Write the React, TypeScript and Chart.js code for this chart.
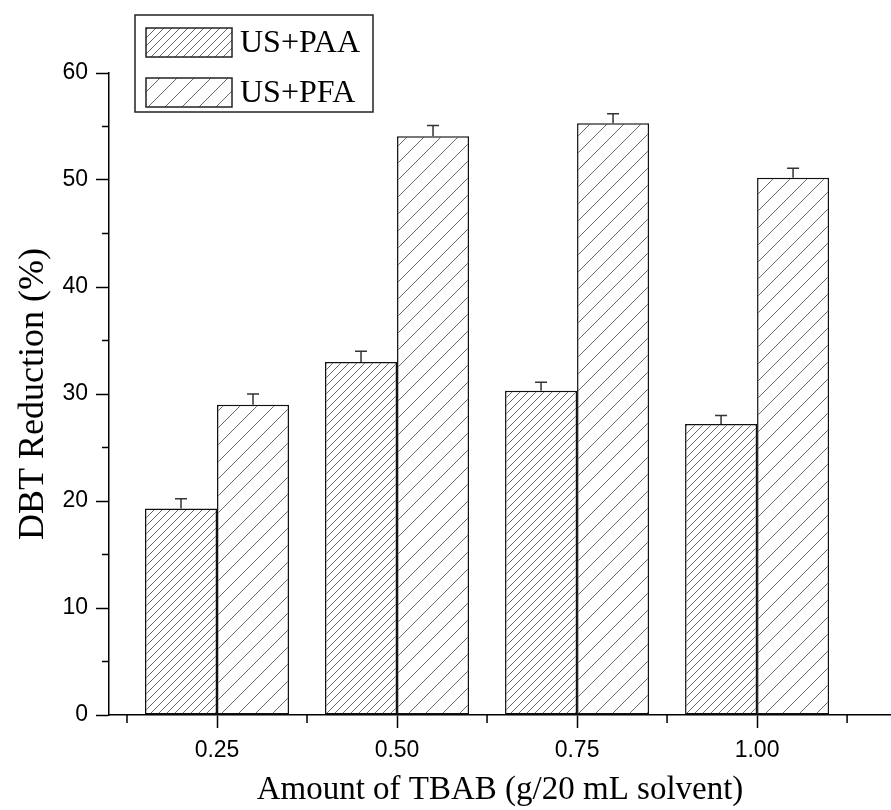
import React, { useEffect, useRef } from "react";
import { Chart, registerables } from "chart.js";

Chart.register(...registerables);

const categories = [0.25, 0.5, 0.75, 1.0];
const xTickLabels = ["0.25", "0.50", "0.75", "1.00"];
const xMinorTicks = [0.125, 0.375, 0.625, 0.875, 1.125];
const yMajorTicks = [0, 10, 20, 30, 40, 50, 60];
const yMinorTicks = [5, 15, 25, 35, 45, 55];
const paaValues = [19.3, 33.0, 30.3, 27.2];
const paaErrors = [0.9, 1.0, 0.8, 0.8];
const pfaValues = [29.0, 54.1, 55.3, 50.2];
const pfaErrors = [1.0, 1.0, 0.9, 0.9];
const seriesNames = ["US+PAA", "US+PFA"];

function makePattern(size: number): CanvasPattern {
  const c = document.createElement("canvas");
  c.width = size;
  c.height = size;
  const g = c.getContext("2d")!;
  g.fillStyle = "#ffffff";
  g.fillRect(0, 0, size, size);
  g.strokeStyle = "#6a6a6a";
  g.lineWidth = 1;
  g.beginPath();
  g.moveTo(-1, size + 1);
  g.lineTo(size + 1, -1);
  g.moveTo(-2, 2);
  g.lineTo(2, -2);
  g.moveTo(size - 2, size + 2);
  g.lineTo(size + 2, size - 2);
  g.stroke();
  return g.createPattern(c, "repeat")!;
}

export default function App() {
  const ref = useRef<HTMLCanvasElement | null>(null);

  useEffect(() => {
    const canvas = ref.current!;
    const patPAA = makePattern(8);
    const patPFA = makePattern(17);
    const errs = [paaErrors, pfaErrors];
    const pats = [patPAA, patPFA];

    const errorBars = {
      id: "errorBars",
      afterDatasetsDraw(chart: any) {
        const ctx = chart.ctx;
        const ys = chart.scales.y;
        ctx.save();
        ctx.strokeStyle = "#333";
        ctx.lineWidth = 1.5;
        chart.data.datasets.forEach((ds: any, i: number) => {
          const meta = chart.getDatasetMeta(i);
          meta.data.forEach((el: any, j: number) => {
            const v = ds.data[j].y;
            const top = ys.getPixelForValue(v + errs[i][j]);
            ctx.beginPath();
            ctx.moveTo(el.x, el.y);
            ctx.lineTo(el.x, top);
            ctx.moveTo(el.x - 6, top);
            ctx.lineTo(el.x + 6, top);
            ctx.stroke();
          });
        });
        ctx.restore();
      },
    };

    const minorTicks = {
      id: "minorTicks",
      afterDraw(chart: any) {
        const ctx = chart.ctx;
        const xs = chart.scales.x;
        const ys = chart.scales.y;
        ctx.save();
        ctx.strokeStyle = "#000";
        ctx.lineWidth = 1.5;
        ctx.beginPath();
        yMinorTicks.forEach((v) => {
          const y = ys.getPixelForValue(v);
          ctx.moveTo(chart.chartArea.left, y);
          ctx.lineTo(chart.chartArea.left - 7, y);
        });
        xMinorTicks.forEach((v) => {
          const x = xs.getPixelForValue(v);
          ctx.moveTo(x, chart.chartArea.bottom);
          ctx.lineTo(x, chart.chartArea.bottom + 8);
        });
        ctx.stroke();

        // legend
        const bx = 135, by = 15, bw = 238, bh = 97;
        ctx.fillStyle = "#fff";
        ctx.fillRect(bx, by, bw, bh);
        ctx.strokeStyle = "#222";
        ctx.lineWidth = 1.5;
        ctx.strokeRect(bx, by, bw, bh);
        const rows = [42.5, 92.5];
        rows.forEach((cy, i) => {
          ctx.fillStyle = pats[i];
          ctx.fillRect(146, cy - 14.5, 86, 29);
          ctx.strokeStyle = "#222";
          ctx.lineWidth = 1.5;
          ctx.strokeRect(146, cy - 14.5, 86, 29);
          ctx.fillStyle = "#000";
          ctx.font = '32px "Liberation Serif"';
          ctx.textBaseline = "middle";
          ctx.textAlign = "left";
          ctx.fillText(seriesNames[i], 240, cy + 1);
        });
        ctx.restore();
      },
    };

    const chart = new Chart(canvas, {
      type: "bar",
      data: {
        datasets: [
          {
            label: seriesNames[0],
            data: categories.map((c, i) => ({ x: c, y: paaValues[i] })),
            backgroundColor: patPAA,
            borderColor: "#111",
            borderWidth: 1.5,
            borderSkipped: false,
          },
          {
            label: seriesNames[1],
            data: categories.map((c, i) => ({ x: c, y: pfaValues[i] })),
            backgroundColor: patPFA,
            borderColor: "#111",
            borderWidth: 1.5,
            borderSkipped: false,
          },
        ],
      },
      options: {
        animation: false,
        responsive: false,
        maintainAspectRatio: false,
        layout: { padding: { top: 73, right: 0, left: 0, bottom: 0 } },
        datasets: { bar: { categoryPercentage: 0.8, barPercentage: 1.0 } },
        plugins: { legend: { display: false }, tooltip: { enabled: false } },
        scales: {
          x: {
            type: "linear",
            min: 0.1,
            max: 1.186,
            offset: false,
            afterBuildTicks(scale: any) {
              scale.ticks = categories.map((v) => ({ value: v }));
            },
            afterFit(scale: any) {
              scale.height = 95;
            },
            ticks: {
              callback: (v: any) => {
                const i = categories.indexOf(Number(v));
                return i >= 0 ? xTickLabels[i] : "";
              },
              font: { family: "Liberation Sans", size: 23 },
              color: "#000",
              padding: 9,
              maxRotation: 0,
            },
            grid: {
              offset: false,
              drawOnChartArea: false,
              drawTicks: true,
              tickLength: 13,
              tickColor: "#000",
              tickWidth: 1.5,
            },
            border: { display: true, color: "#000", width: 1.5 },
            title: {
              display: true,
              text: "Amount of TBAB (g/20 mL solvent)",
              font: { family: "Liberation Serif", size: 33 },
              color: "#000",
              padding: { top: 0, bottom: 0 },
            },
          },
          y: {
            min: 0,
            max: 60,
            afterBuildTicks(scale: any) {
              scale.ticks = yMajorTicks.map((v) => ({ value: v }));
            },
            afterFit(scale: any) {
              scale.width = 109;
            },
            ticks: {
              font: { family: "Liberation Sans", size: 23 },
              color: "#000",
              padding: 8,
            },
            grid: {
              drawOnChartArea: false,
              drawTicks: true,
              tickLength: 13,
              tickColor: "#000",
              tickWidth: 1.5,
            },
            border: { display: true, color: "#000", width: 1.5 },
            title: {
              display: true,
              text: "DBT Reduction (%)",
              font: { family: "Liberation Serif", size: 36 },
              color: "#000",
              padding: { top: 12, bottom: 0 },
            },
          },
        },
      },
      plugins: [errorBars, minorTicks],
    } as any);

    return () => chart.destroy();
  }, []);

  return (
    <div style={{ position: "absolute", left: 0, top: 0, width: 891, height: 810, background: "#fff" }}>
      <canvas ref={ref} width={891} height={810} style={{ display: "block" }} />
    </div>
  );
}
